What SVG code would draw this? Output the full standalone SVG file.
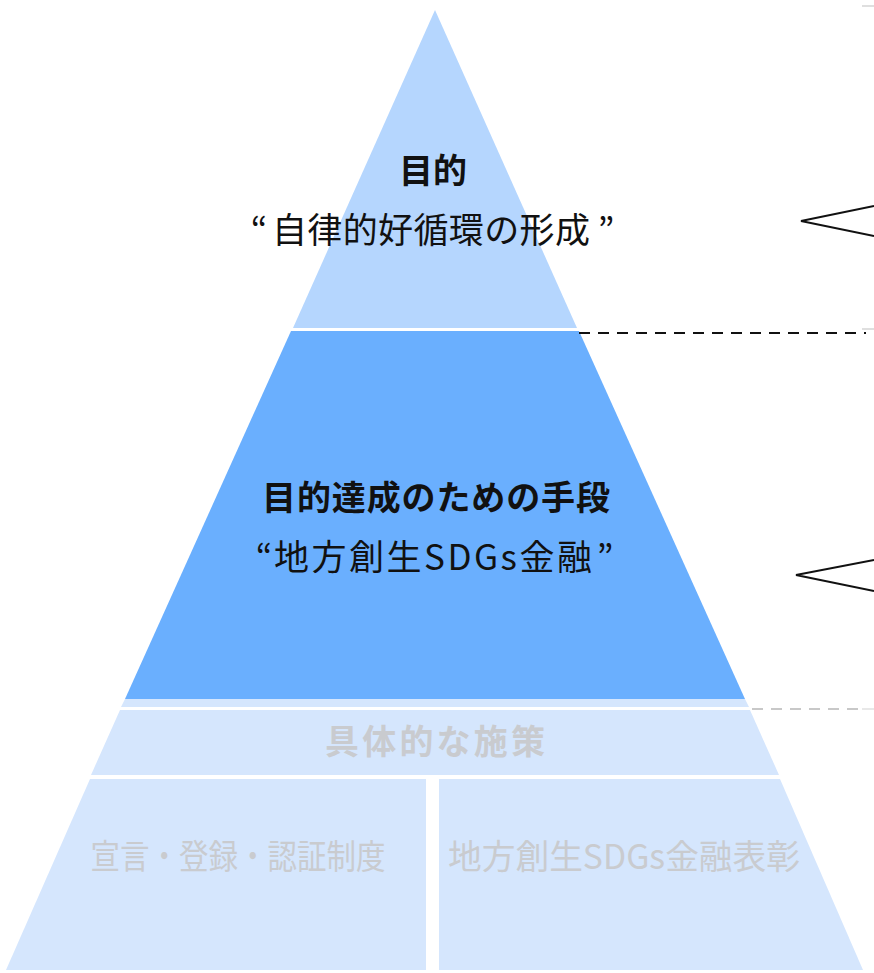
<svg xmlns="http://www.w3.org/2000/svg" width="874" height="973" viewBox="0 0 874 973">
<style>
.t{font-family:"Noto Sans CJK JP","Noto Sans",sans-serif;text-anchor:middle}
.b{font-weight:bold}
.dk{fill:#111}
.gy{fill:#c9cbcf}
.cl{fill:none;stroke:#111;stroke-width:1.8}
</style>
<rect width="874" height="973" fill="#fff"/>
<g id="top">
<polygon points="435,10 577,328 293,328" fill="#b5d6fe"/>
<text class="t b dk" x="433" y="183" font-size="34">目的</text>
<text class="t dk" font-size="35"><tspan x="259" y="243">“</tspan><tspan x="431" y="243" textLength="318" lengthAdjust="spacing">自律的好循環の形成</tspan><tspan x="606" y="243">”</tspan></text>
</g>
<g id="middle">
<polygon points="291,331 579,331 745,699 125,699" fill="#6aaffe"/>
<text class="t b dk" x="436" y="510" font-size="34" textLength="348" lengthAdjust="spacing">目的達成のための手段</text>
<text class="t dk" font-size="35"><tspan x="264" y="570">“</tspan><tspan x="433" y="570" textLength="318" lengthAdjust="spacing">地方創生SDGs金融</tspan><tspan x="605" y="570">”</tspan></text>
</g>
<g id="strip">
<polygon points="125,699 745,699 749,707 121,707" fill="#d5e6fd"/>
</g>
<g id="measures">
<polygon points="120,710 750,710 779,775 91,775" fill="#d5e6fd"/>
<text class="t b gy" x="435" y="754" font-size="34" textLength="220" lengthAdjust="spacing">具体的な施策</text>
</g>
<g id="left-cell">
<polygon points="90,779 426,779 426,970 6,970" fill="#d5e6fd"/>
<text class="t gy" x="238" y="869" font-size="34" textLength="295" lengthAdjust="spacingAndGlyphs">宣言・登録・認証制度</text>
</g>
<g id="right-cell">
<polygon points="439,779 780,779 863,970 439,970" fill="#d5e6fd"/>
<text class="t gy" x="624" y="869" font-size="34" textLength="352" lengthAdjust="spacingAndGlyphs">地方創生SDGs金融表彰</text>
</g>
<g id="connectors">
<line x1="579" y1="333" x2="866" y2="333" stroke="#111" stroke-width="2" stroke-dasharray="11,8"/>
<line x1="752" y1="709" x2="866" y2="709" stroke="#c8c8c8" stroke-width="2" stroke-dasharray="11,8"/>
<line x1="862" y1="6" x2="874" y2="6" stroke="#d4d4d4" stroke-width="1.5"/>
<line x1="862" y1="329" x2="874" y2="329" stroke="#d4d4d4" stroke-width="1.5"/>
<line x1="862" y1="709" x2="874" y2="709" stroke="#e0e0e0" stroke-width="1.5"/>
<polyline class="cl" points="874,206 801,221 874,236"/>
<polyline class="cl" points="874,560 796,575 874,591"/>
</g>
</svg>
